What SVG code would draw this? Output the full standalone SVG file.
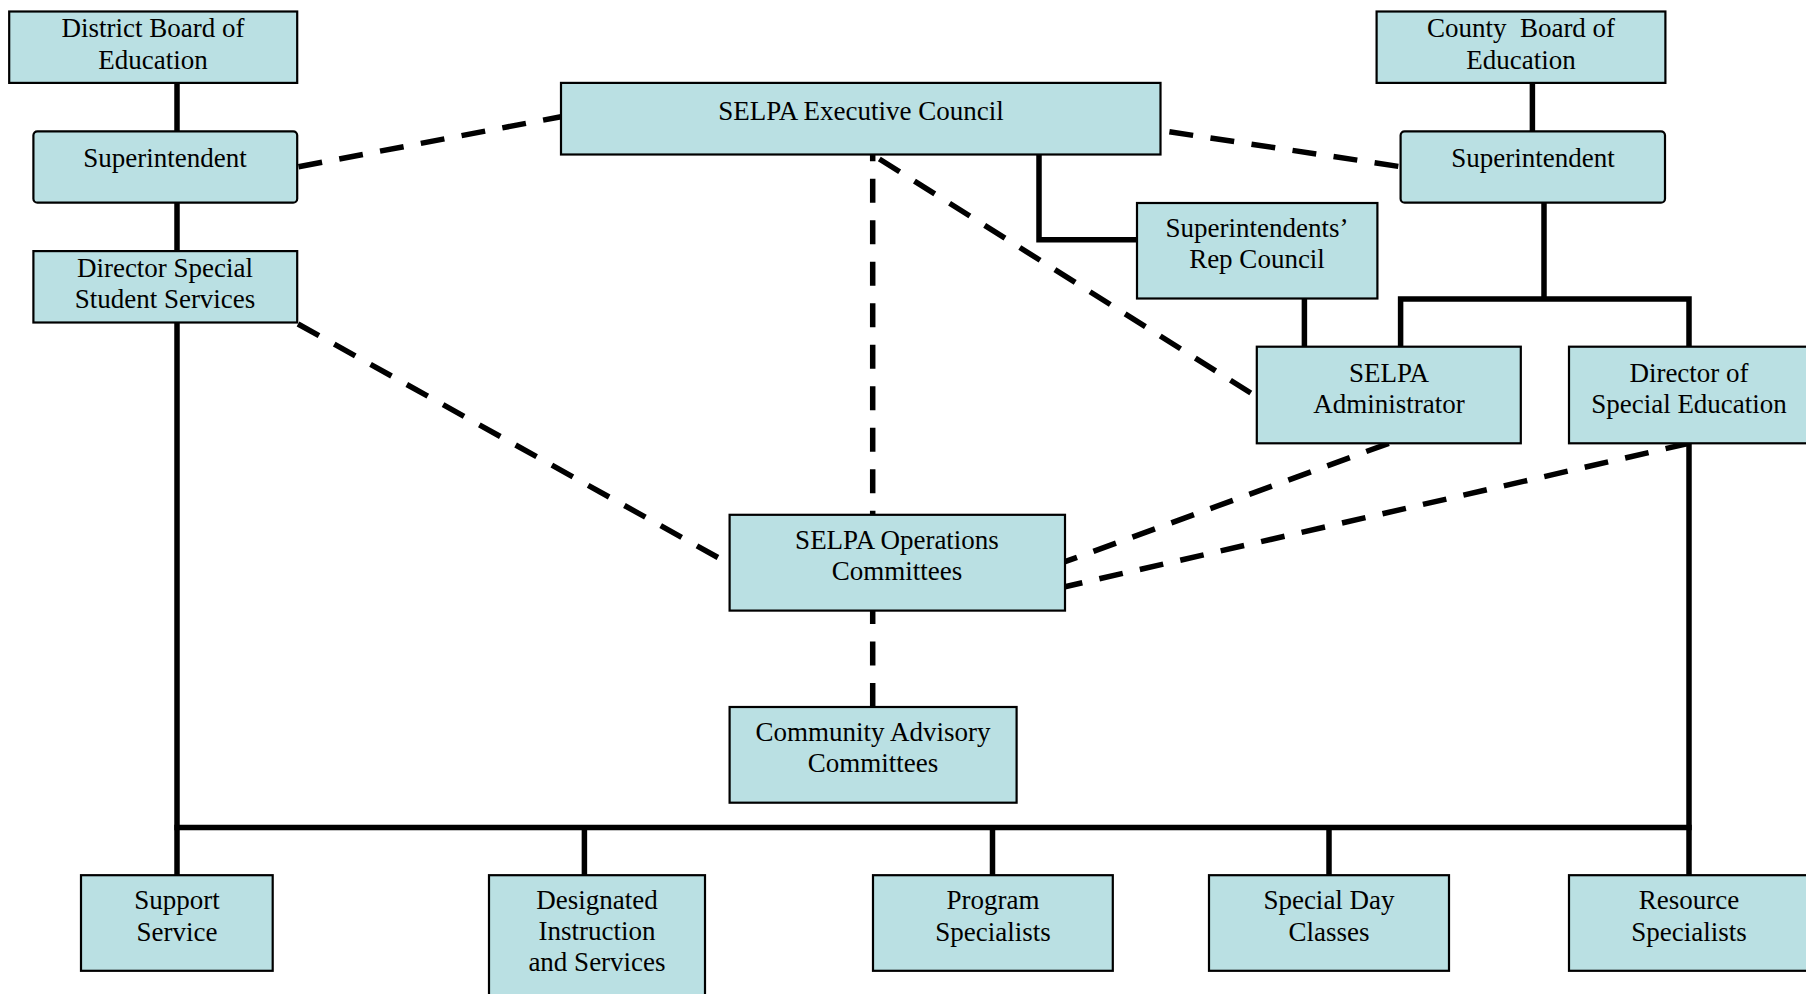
<svg xmlns="http://www.w3.org/2000/svg" width="1806" height="994" viewBox="0 0 1806 994">
<style>
.box{fill:#BAE0E3;stroke:#000;stroke-width:2.2}
.t{font-family:"Liberation Serif","Times New Roman",serif;font-size:27px;fill:#000;text-anchor:middle}
.s{fill:none;stroke:#000;stroke-width:5.5;stroke-linecap:butt}
.d{fill:none;stroke:#000;stroke-width:5.5;stroke-dasharray:24 17.5;stroke-linecap:butt}
</style>
<rect width="1806" height="994" fill="#fff"/>
<g id="connectors">
<path class="s" d="M177 83V131"/>
<path class="s" d="M177 202.7V251"/>
<path class="s" d="M177 322.5V875"/>
<path class="s" d="M174.3 827.5H1691.7"/>
<path class="s" d="M584.4 827.5V875"/>
<path class="s" d="M992.5 827.5V875"/>
<path class="s" d="M1329 827.5V875"/>
<path class="s" d="M1689 443.3V875"/>
<path class="s" d="M1532.4 83V131"/>
<path class="s" d="M1544 202.7V299"/>
<path class="s" d="M1400.6 346.7V299H1689V346.7"/>
<path class="s" d="M1304.4 298.7V346.7"/>
<path class="s" d="M1039 155V239.7H1137.3"/>
<path class="d" d="M298.5 166.7L561 116.7"/>
<path class="d" d="M1161 130.5L1400.6 166.7" stroke-dashoffset="33"/>
<path class="d" d="M872.7 155V514.8" stroke-dashoffset="17.7"/>
<path class="d" d="M872.7 707V610.6"/>
<path class="d" d="M873 155L1256.6 396.7" stroke-dashoffset="34"/>
<path class="d" d="M298 324L729.6 564"/>
<path class="d" d="M1388.8 443.3L1065 561.7"/>
<path class="d" d="M1689 443.3L1065 586.7"/>
</g>
<g id="district-board">
<rect class="box" x="9.2" y="11.5" width="288" height="71.4"/>
<text class="t" x="153" y="37">District Board of</text>
<text class="t" x="153" y="68.5">Education</text>
</g>
<g id="superintendent-left">
<rect class="box" x="33.4" y="131.3" width="263.8" height="71.4" rx="4"/>
<text class="t" x="165" y="167">Superintendent</text>
</g>
<g id="director-special-student-services">
<rect class="box" x="33.4" y="251.1" width="263.8" height="71.4"/>
<text class="t" x="165" y="276.7">Director Special</text>
<text class="t" x="165" y="308.3">Student Services</text>
</g>
<g id="selpa-executive-council">
<rect class="box" x="561" y="82.9" width="599.5" height="71.6"/>
<text class="t" x="861" y="119.5">SELPA Executive Council</text>
</g>
<g id="county-board">
<rect class="box" x="1376.6" y="11.5" width="288.8" height="71.4"/>
<text class="t" x="1521" y="37.3" xml:space="preserve">County  Board of</text>
<text class="t" x="1521" y="69">Education</text>
</g>
<g id="superintendent-right">
<rect class="box" x="1400.6" y="131.3" width="264.4" height="71.4" rx="4"/>
<text class="t" x="1533" y="167">Superintendent</text>
</g>
<g id="superintendents-rep-council">
<rect class="box" x="1137" y="203" width="240.4" height="95.5"/>
<text class="t" x="1257" y="237.3">Superintendents’</text>
<text class="t" x="1257" y="268.4">Rep Council</text>
</g>
<g id="selpa-administrator">
<rect class="box" x="1256.8" y="346.7" width="264" height="96.6"/>
<text class="t" x="1389" y="381.7">SELPA</text>
<text class="t" x="1389" y="413.3">Administrator</text>
</g>
<g id="director-special-education">
<rect class="box" x="1569" y="346.7" width="240" height="96.6"/>
<text class="t" x="1689" y="381.7">Director of</text>
<text class="t" x="1689" y="413.3">Special Education</text>
</g>
<g id="selpa-operations-committees">
<rect class="box" x="729.6" y="514.8" width="335.4" height="95.8"/>
<text class="t" x="897" y="548.6">SELPA Operations</text>
<text class="t" x="897" y="580.3">Committees</text>
</g>
<g id="community-advisory-committees">
<rect class="box" x="729.6" y="707" width="287" height="95.7"/>
<text class="t" x="873" y="740.7">Community Advisory</text>
<text class="t" x="873" y="772.4">Committees</text>
</g>
<g id="support-service">
<rect class="box" x="81" y="875.2" width="191.7" height="95.6"/>
<text class="t" x="177" y="909">Support</text>
<text class="t" x="177" y="941">Service</text>
</g>
<g id="designated-instruction">
<rect class="box" x="489" y="875.2" width="216" height="130"/>
<text class="t" x="597" y="909.3">Designated</text>
<text class="t" x="597" y="940">Instruction</text>
<text class="t" x="597" y="970.7">and Services</text>
</g>
<g id="program-specialists">
<rect class="box" x="873" y="875.2" width="239.8" height="95.6"/>
<text class="t" x="993" y="909">Program</text>
<text class="t" x="993" y="941">Specialists</text>
</g>
<g id="special-day-classes">
<rect class="box" x="1209" y="875.2" width="240" height="95.6"/>
<text class="t" x="1329" y="909">Special Day</text>
<text class="t" x="1329" y="941">Classes</text>
</g>
<g id="resource-specialists">
<rect class="box" x="1569" y="875.2" width="240" height="95.6"/>
<text class="t" x="1689" y="909">Resource</text>
<text class="t" x="1689" y="941">Specialists</text>
</g>
</svg>
